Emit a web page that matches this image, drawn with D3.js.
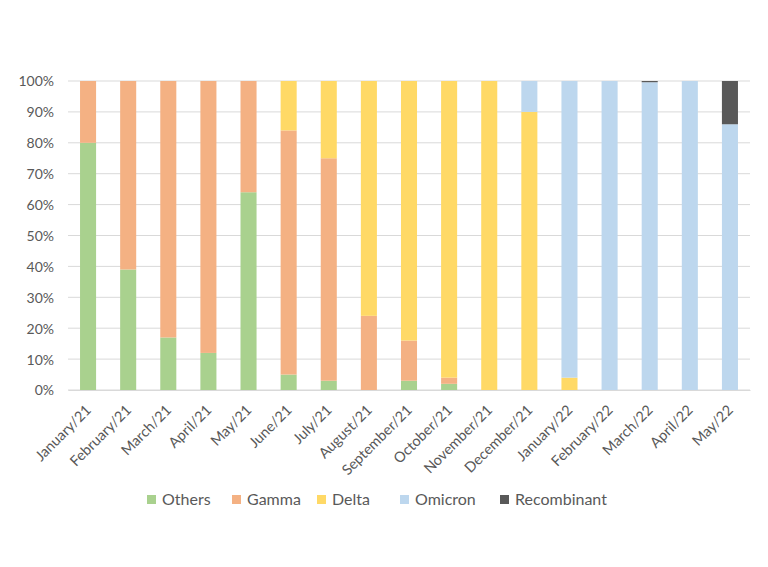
<!DOCTYPE html>
<html>
<head>
<meta charset="utf-8">
<script src="https://cdn.jsdelivr.net/npm/d3@7"></script>
<style>
  html, body { margin: 0; padding: 0; background: #fff; }
  text { font-family: Lato, "Open Sans", sans-serif; fill: #595959; }
</style>
</head>
<body>
<svg id="chart" width="768" height="567"></svg>
<script>
const months = ["January/21","February/21","March/21","April/21","May/21","June/21","July/21","August/21","September/21","October/21","November/21","December/21","January/22","February/22","March/22","April/22","May/22"];
const seriesNames = ["Others","Gamma","Delta","Omicron","Recombinant"];
const others      = [80, 39, 17, 12, 64, 5, 3, 0, 3, 2, 0, 0, 0, 0, 0, 0, 0];
const gamma       = [20, 61, 83, 88, 36, 79, 72, 24, 13, 2, 0, 0, 0, 0, 0, 0, 0];
const delta       = [0, 0, 0, 0, 0, 16, 25, 76, 84, 96, 100, 90, 4, 0, 0, 0, 0];
const omicron     = [0, 0, 0, 0, 0, 0, 0, 0, 0, 0, 0, 10, 96, 100, 99.6, 100, 86];
const recombinant = [0, 0, 0, 0, 0, 0, 0, 0, 0, 0, 0, 0, 0, 0, 0.4, 0, 14];
const yTicks = [0, 10, 20, 30, 40, 50, 60, 70, 80, 90, 100];
const colors = ["#A9D18E", "#F4B183", "#FFD966", "#BDD7EE", "#595959"];

const seriesValues = [others, gamma, delta, omicron, recombinant];
const rows = months.map((m, i) => {
  const r = { month: m };
  seriesNames.forEach((s, k) => r[s] = seriesValues[k][i]);
  return r;
});

const svg = d3.select("#chart");
const plotL = 68, plotR = 750, plotT = 81, plotB = 390;

const x = d3.scaleBand().domain(months).range([plotL, plotR]).paddingInner(0.6).paddingOuter(0.3);
const y = d3.scaleLinear().domain([0, 100]).range([plotB, plotT]);
const color = d3.scaleOrdinal().domain(seriesNames).range(colors);

// gridlines
svg.append("g")
  .selectAll("line")
  .data(yTicks)
  .join("line")
  .attr("x1", plotL).attr("x2", plotR)
  .attr("y1", d => y(d)).attr("y2", d => y(d))
  .attr("stroke", "#D9D9D9").attr("stroke-width", 1);

// y axis labels
const yAxis = d3.axisLeft(y).tickValues(yTicks).tickFormat(d => d + "%").tickSize(0).tickPadding(14);
const yg = svg.append("g").attr("transform", `translate(${plotL},0)`).call(yAxis);
yg.select(".domain").remove();
yg.selectAll("text").style("font-size", "14px").attr("fill", "#595959").attr("dy", "0.35em");

// stacked bars
const stack = d3.stack().keys(seriesNames);
const stacked = stack(rows);
svg.append("g")
  .selectAll("g")
  .data(stacked)
  .join("g")
  .attr("fill", d => color(d.key))
  .selectAll("rect")
  .data(d => d)
  .join("rect")
  .attr("x", d => x(d.data.month))
  .attr("width", x.bandwidth())
  .attr("y", d => y(d[1]))
  .attr("height", d => Math.max(0, y(d[0]) - y(d[1])));

// x axis
const xAxis = d3.axisBottom(x).tickSize(0).tickPadding(0);
const xg = svg.append("g").attr("transform", `translate(0,${plotB})`).call(xAxis);
xg.select(".domain").attr("stroke", "#D9D9D9");
xg.selectAll("text")
  .style("font-size", "14.5px")
  .attr("fill", "#595959")
  .attr("text-anchor", "end")
  .attr("dy", null)
  .attr("y", 0)
  .attr("transform", "translate(4,21) rotate(-45)");

// legend
const legendX = [147, 232, 317, 400, 500];
const lg = svg.append("g");
const items = lg.selectAll("g").data(seriesNames).join("g")
  .attr("transform", (d, i) => `translate(${legendX[i]},495)`);
items.append("rect").attr("width", 9).attr("height", 9).attr("fill", d => color(d));
items.append("text").attr("x", 15).attr("y", 9.5).style("font-size", "16px").text(d => d);
</script>
</body>
</html>
